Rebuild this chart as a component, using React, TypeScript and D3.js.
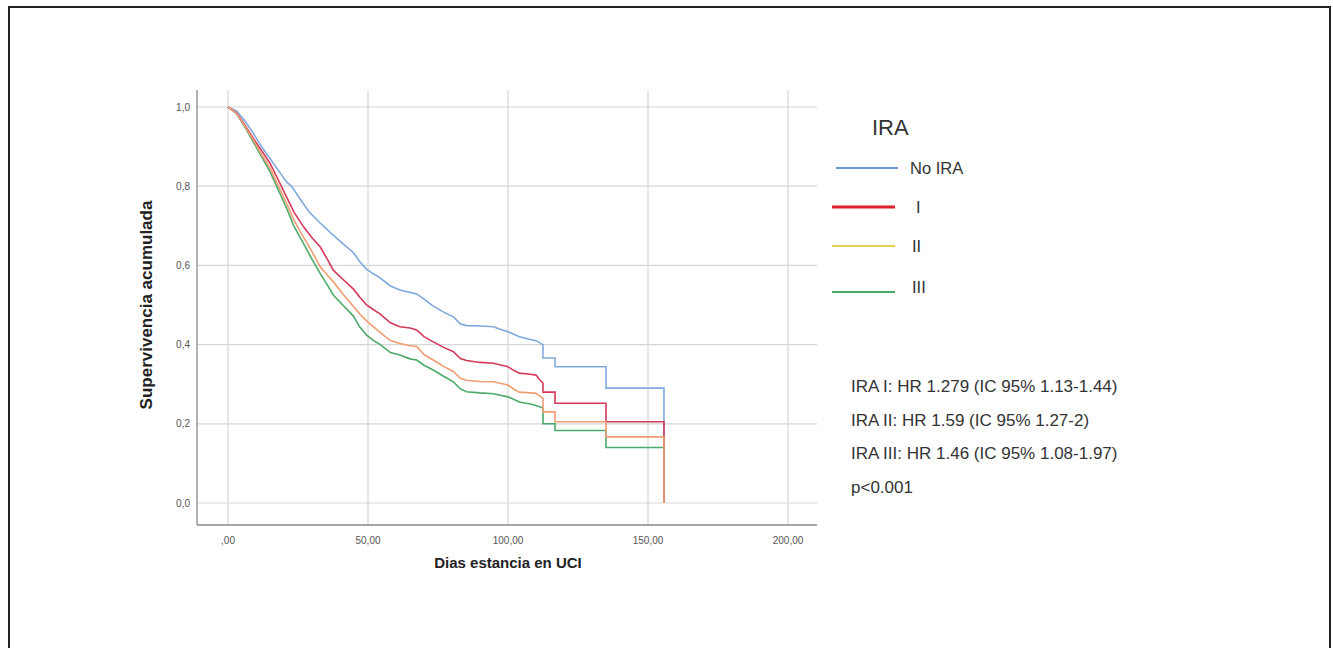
import React from "react";
import * as d3 from "d3";

type Pt = [number, number];

const seriesNames = ["No IRA", "I", "II", "III"];
const curveColors = ["#7fa9dc", "#d5395a", "#f19d72", "#4caa6a"];
const legendColors = ["#6f97d8", "#e0202c", "#e8d04a", "#4caa6a"];

const noIra: Pt[] = [
  [0, 1], [3, 0.99], [6, 0.965], [9, 0.934], [12, 0.9], [15, 0.87], [18, 0.84], [20.9, 0.811], [22.7, 0.8],
  [26, 0.765], [29, 0.735], [32.9, 0.707], [37, 0.68], [41, 0.655], [44.8, 0.632], [47, 0.61], [49.5, 0.59],
  [54.4, 0.568], [58, 0.548], [61.4, 0.538], [66, 0.53], [67.4, 0.528], [70, 0.515], [73.3, 0.497], [77, 0.482],
  [80.5, 0.47], [83, 0.452], [85.2, 0.448], [90, 0.447], [94.8, 0.445], [98, 0.437], [101, 0.43], [104, 0.42],
  [108, 0.413], [110, 0.41], [112.5, 0.4], [112.5, 0.366], [116.8, 0.366], [116.8, 0.344], [135, 0.344],
  [135, 0.29], [155.7, 0.29], [155.7, 0],
];
const iraI: Pt[] = [
  [0, 1], [3, 0.985], [6, 0.955], [9, 0.921], [12, 0.89], [15, 0.858], [18, 0.815], [20.9, 0.773], [23.5, 0.735],
  [26.9, 0.698], [30, 0.67], [32.9, 0.647], [35.5, 0.615], [37.6, 0.588], [41, 0.565], [44.8, 0.54], [47, 0.52],
  [49.5, 0.5], [52, 0.488], [54.4, 0.477], [58, 0.455], [61.4, 0.445], [65, 0.442], [67.4, 0.437], [70, 0.42],
  [73.3, 0.407], [77, 0.393], [80.5, 0.382], [83, 0.365], [85.2, 0.36], [90, 0.355], [94.8, 0.353], [100, 0.344],
  [102, 0.335], [104, 0.328], [108, 0.325], [110, 0.323], [111.5, 0.31], [112.5, 0.303], [112.5, 0.28],
  [116.8, 0.28], [116.8, 0.252], [135, 0.252], [135, 0.205], [155.7, 0.205], [155.7, 0],
];
const iraII: Pt[] = [
  [0, 1], [3, 0.985], [6, 0.952], [9, 0.917], [12, 0.88], [15, 0.846], [18, 0.8], [20.9, 0.757], [23.5, 0.715],
  [26.9, 0.672], [30, 0.635], [32.9, 0.597], [35.5, 0.575], [37.6, 0.559], [41, 0.528], [44.8, 0.496], [47, 0.478],
  [49.5, 0.46], [52, 0.445], [54.4, 0.43], [58, 0.41], [61.4, 0.403], [65, 0.397], [67.4, 0.395], [70, 0.375],
  [73.3, 0.361], [77, 0.345], [80.5, 0.332], [83, 0.315], [85.2, 0.31], [90, 0.307], [94.8, 0.306], [100, 0.298],
  [102, 0.288], [104, 0.28], [108, 0.278], [110, 0.277], [112.5, 0.265], [112.5, 0.23], [116.8, 0.23],
  [116.8, 0.205], [135, 0.205], [135, 0.167], [155.7, 0.167], [155.7, 0],
];
const iraIII: Pt[] = [
  [0, 1], [3, 0.984], [6, 0.95], [9, 0.912], [12, 0.875], [15, 0.837], [18, 0.79], [20.9, 0.745], [23.5, 0.7],
  [26.9, 0.656], [30, 0.615], [32.9, 0.58], [35.5, 0.55], [37.6, 0.525], [41, 0.5], [44.8, 0.472], [47, 0.445],
  [49.5, 0.424], [52, 0.41], [54.4, 0.4], [58, 0.38], [61.4, 0.374], [65, 0.364], [67.4, 0.361], [70, 0.348],
  [73.3, 0.336], [77, 0.32], [80.5, 0.306], [83, 0.288], [85.2, 0.281], [90, 0.278], [94.8, 0.276], [100, 0.268],
  [102, 0.262], [104, 0.255], [108, 0.25], [110, 0.246], [112.5, 0.24], [112.5, 0.2], [116.8, 0.2],
  [116.8, 0.183], [135, 0.183], [135, 0.14], [155.7, 0.14], [155.7, 0],
];
const seriesData = [noIra, iraI, iraII, iraIII];

const xTicks = [0, 50, 100, 150, 200];
const xTickLabels = [",00", "50,00", "100,00", "150,00", "200,00"];
const yTicks = [0, 0.2, 0.4, 0.6, 0.8, 1.0];
const yTickLabels = ["0,0", "0,2", "0,4", "0,6", "0,8", "1,0"];

const annotations = [
  "IRA I: HR 1.279 (IC 95% 1.13-1.44)",
  "IRA II: HR 1.59 (IC 95% 1.27-2)",
  "IRA III: HR 1.46 (IC 95% 1.08-1.97)",
  "p<0.001",
];

const FONT = "'Liberation Sans', Arial, sans-serif";

export default function App() {
  const x = d3.scaleLinear().domain([0, 200]).range([228, 788]);
  const y = d3.scaleLinear().domain([0, 1]).range([503, 107]);
  const xMin = x.invert(197), xMax = x.invert(817);
  const yMin = y.invert(525), yMax = y.invert(90);
  const line = d3.line<Pt>().x((d) => x(d[0])).y((d) => y(d[1])).curve(d3.curveLinear);
  const drawOrder = [3, 0, 1, 2];

  const legendY = [168, 207, 246, 292];
  const labelY = [168, 207, 246, 287];
  const labelX = [910, 916, 912, 912];

  return (
    <svg width={1333} height={648} style={{ position: "absolute", left: 0, top: 0, background: "#fff" }}>
      <rect x={9} y={7} width={1321} height={700} fill="#fff" stroke="#222" strokeWidth={2} />
      {xTicks.map((t) => (
        <line key={"gx" + t} x1={x(t)} x2={x(t)} y1={y(yMax)} y2={y(yMin)} stroke="#d6d6d6" strokeWidth={1.2} />
      ))}
      {yTicks.map((t) => (
        <line key={"gy" + t} x1={x(xMin)} x2={x(xMax)} y1={y(t)} y2={y(t)} stroke="#d6d6d6" strokeWidth={1.2} />
      ))}
      <line x1={x(xMin)} x2={x(xMin)} y1={y(yMax)} y2={y(yMin)} stroke="#8a8a8a" strokeWidth={1.3} />
      <line x1={x(xMin)} x2={x(xMax)} y1={y(yMin)} y2={y(yMin)} stroke="#8a8a8a" strokeWidth={1.3} />
      {xTicks.map((t, i) => (
        <text key={"tx" + t} x={x(t)} y={543.5} fontSize={10} fill="#555" textAnchor="middle" fontFamily={FONT}>
          {xTickLabels[i]}
        </text>
      ))}
      {yTicks.map((t, i) => (
        <text key={"ty" + t} x={190} y={y(t) + 3.5} fontSize={10} fill="#555" textAnchor="end" fontFamily={FONT}>
          {yTickLabels[i]}
        </text>
      ))}
      {drawOrder.map((i) => (
        <path key={"c" + i} d={line(seriesData[i]) || ""} fill="none" stroke={curveColors[i]} strokeWidth={1.6} />
      ))}
      <text x={508} y={568} fontSize={15} fontWeight="bold" fill="#222" textAnchor="middle" fontFamily={FONT}>
        Dias estancia en UCI
      </text>
      <text
        transform={`translate(152,305) rotate(-90)`}
        fontSize={17}
        fontWeight="bold"
        fill="#222"
        textAnchor="middle"
        fontFamily={FONT}
      >
        Supervivencia acumulada
      </text>
      <text x={872} y={135} fontSize={22} fill="#333" fontFamily={FONT}>IRA</text>
      {seriesNames.map((n, i) => (
        <g key={"lg" + i}>
          <line
            x1={i === 0 ? 836 : 832}
            x2={i === 0 ? 898 : 895}
            y1={legendY[i]}
            y2={legendY[i]}
            stroke={legendColors[i]}
            strokeWidth={i === 1 ? 3.2 : 2.2}
          />
          <text x={labelX[i]} y={labelY[i] + 5.5} fontSize={16.5} fill="#333" fontFamily={FONT}>
            {n}
          </text>
        </g>
      ))}
      {annotations.map((a, i) => (
        <text key={"an" + i} x={851} y={392} dy={i * 33.7} fontSize={17} fill="#333" fontFamily={FONT}>
          {a}
        </text>
      ))}
    </svg>
  );
}
